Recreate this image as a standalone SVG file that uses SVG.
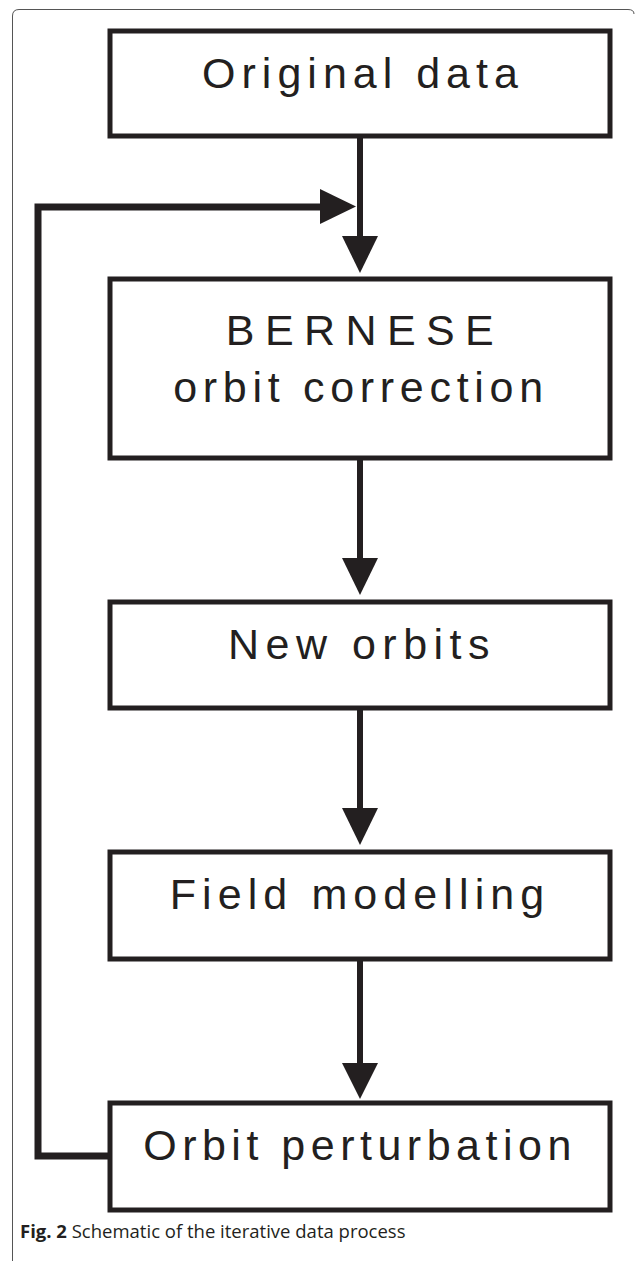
<svg xmlns="http://www.w3.org/2000/svg" width="635" height="1261" viewBox="0 0 635 1261">
<style>
.box{fill:#fff;stroke:#231f20;stroke-width:5;stroke-linejoin:miter}
.lbl{font-family:"Liberation Sans",Arial,sans-serif;font-size:43px;fill:#231f20;text-anchor:middle}
.shaft{stroke:#231f20;stroke-width:6;fill:none}
.fb{stroke:#231f20;stroke-width:7;fill:none;stroke-linejoin:miter}
.head{fill:#231f20}
.cap{font-family:"Open Sans","Liberation Sans",sans-serif;font-size:18.5px;fill:#231f20}
</style>
<rect width="635" height="1261" fill="#fff"/>
<path d="M12.5,1261 V16 Q12.5,9.5 19,9.5 H628 Q634,9.5 634,14" fill="none" stroke="#555" stroke-width="1"/>
<g id="connectors">
<line class="shaft" x1="360" y1="136" x2="360" y2="240"/>
<polygon class="head" points="342,236 378,236 360,273"/>
<polyline class="fb" points="108,1156 38,1156 38,207 324,207"/>
<polygon class="head" points="320,189 320,224 356,206.5"/>
<line class="shaft" x1="360" y1="458" x2="360" y2="562"/>
<polygon class="head" points="342,558 378,558 360,595"/>
<line class="shaft" x1="360" y1="708" x2="360" y2="812"/>
<polygon class="head" points="342,808 378,808 360,845"/>
<line class="shaft" x1="360" y1="959" x2="360" y2="1067"/>
<polygon class="head" points="342,1063 378,1063 360,1099"/>
</g>
<g id="node-original">
<rect class="box" x="110" y="31" width="500" height="105"/>
<text class="lbl" x="363" y="88" letter-spacing="6">Original data</text>
</g>
<g id="node-bernese">
<rect class="box" x="110" y="279" width="500" height="179"/>
<text class="lbl" x="365" y="345" letter-spacing="10.4">BERNESE</text>
<text class="lbl" x="361" y="402" letter-spacing="5.7">orbit correction</text>
</g>
<g id="node-neworbits">
<rect class="box" x="110" y="602" width="500" height="106"/>
<text class="lbl" x="362" y="659" letter-spacing="6.5">New orbits</text>
</g>
<g id="node-field">
<rect class="box" x="110" y="852" width="500" height="107"/>
<text class="lbl" x="360" y="909" letter-spacing="6.1">Field modelling</text>
</g>
<g id="node-perturbation">
<rect class="box" x="110" y="1103" width="500" height="107"/>
<text class="lbl" x="360" y="1160" letter-spacing="5.5">Orbit perturbation</text>
</g>
<text class="cap" x="20" y="1238"><tspan font-weight="bold">Fig. 2</tspan> Schematic of the iterative data process</text>
</svg>
